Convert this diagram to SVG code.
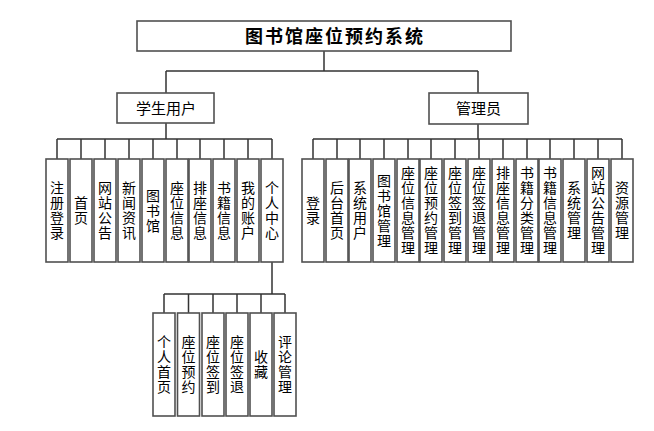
<svg xmlns="http://www.w3.org/2000/svg" width="654" height="431" viewBox="0 0 654 431">
<style>
.box{fill:#fff;stroke:#505050;stroke-width:1.6}
.ln{fill:none;stroke:#333;stroke-width:1.5}
text{font-family:"Noto Sans CJK SC","Noto Sans",sans-serif;fill:#000}
.v{font-size:14px;text-anchor:middle;writing-mode:vertical-rl;letter-spacing:1px}
.h{font-size:15px;text-anchor:middle}
.t{font-size:18px;font-weight:bold;letter-spacing:2px}
</style>
<rect width="654" height="431" fill="#fff"/>
<g id="connectors">
<path class="ln" d="M324 51V71M166 71H478M166 71V93M478 71V93M166 123V139M57 139H272M478 124V139M313 139H622M272 262V294M164 294H285"/>
<path class="ln" d="M57 139V159M81 139V159M105 139V159M129 139V159M153 139V159M177 139V159M200 139V159M224 139V159M248 139V159M272 139V159"/>
<path class="ln" d="M313 139V159M337 139V159M360 139V159M384 139V159M408 139V159M431 139V159M455 139V159M479 139V159M503 139V159M527 139V159M550 139V159M574 139V159M598 139V159M622 139V159"/>
<path class="ln" d="M164 294V313M188.5 294V313M213 294V313M237 294V313M261 294V313M285 294V313"/>
</g>
<g id="root"><rect class="box" x="137" y="21" width="374" height="30"/><text class="t" x="245" y="42.5">图书馆座位预约系统</text></g>
<g id="student"><rect class="box" x="117" y="93" width="97" height="30"/><text class="h" x="166" y="113.5">学生用户</text></g>
<g id="admin"><rect class="box" x="429" y="93" width="99" height="31"/><text class="h" x="478.5" y="114">管理员</text></g>

<g id="s1"><rect class="box" x="46" y="159" width="22" height="103"/><text class="v" x="57" y="211">注册登录</text></g>
<g id="s2"><rect class="box" x="70" y="159" width="22" height="103"/><text class="v" x="81" y="211">首页</text></g>
<g id="s3"><rect class="box" x="94" y="159" width="22" height="103"/><text class="v" x="105" y="211">网站公告</text></g>
<g id="s4"><rect class="box" x="118" y="159" width="22" height="103"/><text class="v" x="129" y="211">新闻资讯</text></g>
<g id="s5"><rect class="box" x="142" y="159" width="22" height="103"/><text class="v" x="153" y="211">图书馆</text></g>
<g id="s6"><rect class="box" x="166" y="159" width="22" height="103"/><text class="v" x="177" y="211">座位信息</text></g>
<g id="s7"><rect class="box" x="189" y="159" width="22" height="103"/><text class="v" x="200" y="211">排座信息</text></g>
<g id="s8"><rect class="box" x="213" y="159" width="22" height="103"/><text class="v" x="224" y="211">书籍信息</text></g>
<g id="s9"><rect class="box" x="237" y="159" width="22" height="103"/><text class="v" x="248" y="211">我的账户</text></g>
<g id="s10"><rect class="box" x="261" y="159" width="22" height="103"/><text class="v" x="272" y="211">个人中心</text></g>

<g id="a1"><rect class="box" x="302" y="159" width="22" height="103"/><text class="v" x="313" y="211">登录</text></g>
<g id="a2"><rect class="box" x="326" y="159" width="22" height="103"/><text class="v" x="337" y="211">后台首页</text></g>
<g id="a3"><rect class="box" x="349" y="159" width="22" height="103"/><text class="v" x="360" y="211">系统用户</text></g>
<g id="a4"><rect class="box" x="373" y="159" width="22" height="103"/><text class="v" x="384" y="211">图书馆管理</text></g>
<g id="a5"><rect class="box" x="397" y="159" width="22" height="103"/><text class="v" x="408" y="211">座位信息管理</text></g>
<g id="a6"><rect class="box" x="420" y="159" width="22" height="103"/><text class="v" x="431" y="211">座位预约管理</text></g>
<g id="a7"><rect class="box" x="444" y="159" width="22" height="103"/><text class="v" x="455" y="211">座位签到管理</text></g>
<g id="a8"><rect class="box" x="468" y="159" width="22" height="103"/><text class="v" x="479" y="211">座位签退管理</text></g>
<g id="a9"><rect class="box" x="492" y="159" width="22" height="103"/><text class="v" x="503" y="211">排座信息管理</text></g>
<g id="a10"><rect class="box" x="516" y="159" width="22" height="103"/><text class="v" x="527" y="211">书籍分类管理</text></g>
<g id="a11"><rect class="box" x="539" y="159" width="22" height="103"/><text class="v" x="550" y="211">书籍信息管理</text></g>
<g id="a12"><rect class="box" x="563" y="159" width="22" height="103"/><text class="v" x="574" y="211">系统管理</text></g>
<g id="a13"><rect class="box" x="587" y="159" width="22" height="103"/><text class="v" x="598" y="211">网站公告管理</text></g>
<g id="a14"><rect class="box" x="611" y="159" width="22" height="103"/><text class="v" x="622" y="211">资源管理</text></g>

<g id="p1"><rect class="box" x="153" y="313" width="22" height="103"/><text class="v" x="164" y="365">个人首页</text></g>
<g id="p2"><rect class="box" x="177.5" y="313" width="22" height="103"/><text class="v" x="188.5" y="365">座位预约</text></g>
<g id="p3"><rect class="box" x="202" y="313" width="22" height="103"/><text class="v" x="213" y="365">座位签到</text></g>
<g id="p4"><rect class="box" x="226" y="313" width="22" height="103"/><text class="v" x="237" y="365">座位签退</text></g>
<g id="p5"><rect class="box" x="250" y="313" width="22" height="103"/><text class="v" x="261" y="365">收藏</text></g>
<g id="p6"><rect class="box" x="274" y="313" width="22" height="103"/><text class="v" x="285" y="365">评论管理</text></g>
</svg>
